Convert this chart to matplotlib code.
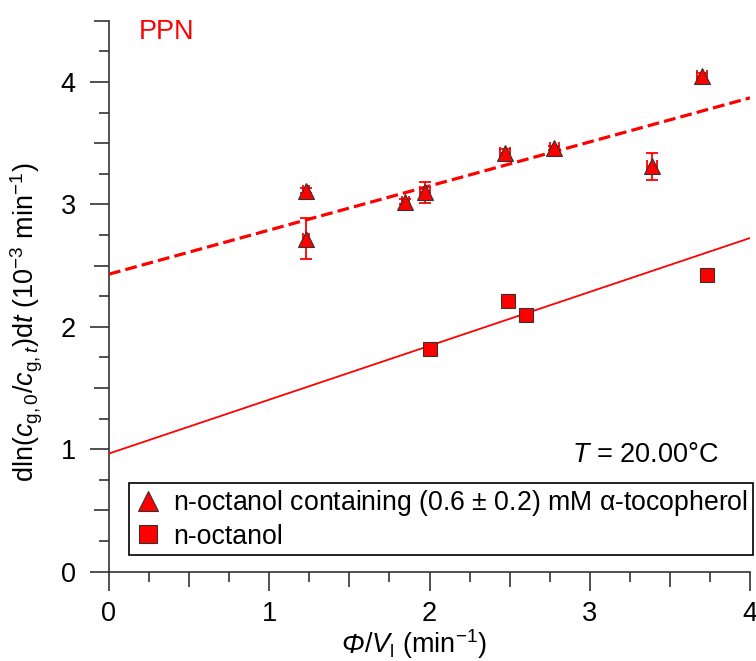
import matplotlib
matplotlib.use('Agg')
import matplotlib.pyplot as plt
from matplotlib.ticker import MultipleLocator, FixedLocator, NullFormatter
from matplotlib.offsetbox import TextArea, HPacker, AnchoredOffsetbox

plt.rcParams['font.family'] = ['Liberation Sans', 'DejaVu Sans']
plt.rcParams['mathtext.fontset'] = 'custom'
plt.rcParams['mathtext.rm'] = 'Liberation Sans'
plt.rcParams['mathtext.it'] = 'Liberation Sans:italic'
plt.rcParams['mathtext.bf'] = 'Liberation Sans:bold'

# n-octanol + alpha-tocopherol (triangles)
tri_x = [1.23, 1.23, 1.85, 1.97, 2.47, 2.78, 3.39, 3.70]
tri_y = [3.11, 2.72, 3.02, 3.10, 3.42, 3.46, 3.31, 4.05]
tri_xerr = [0.02, 0.02, 0.02, 0.03, 0.03, 0.03, 0.03, 0.03]
tri_yerr = [0.02, 0.17, 0.02, 0.085, 0.03, 0.02, 0.11, 0.02]

# n-octanol (squares)
sq_x = [2.00, 2.49, 2.60, 3.73]
sq_y = [1.815, 2.21, 2.095, 2.42]
sq_xerr = [0.01, 0.01, 0.01, 0.03]
sq_yerr = [0.01, 0.01, 0.01, 0.01]

# linear fits (intercept, slope)
fit_tri = (2.43, 0.36)
fit_sq = (0.965, 0.44)
fit_x = [0, 4]

RED = '#ff0000'
FS = 19.5

fig = plt.figure(figsize=(7.56, 6.61), dpi=100)
ax = fig.add_axes([109 / 756, 1 - 571.7 / 661, (750 - 109) / 756, (571.7 - 20.7) / 661])

ax.plot(fit_x, [fit_tri[0] + fit_tri[1] * x for x in fit_x], color=RED, lw=2.3, ls='--', zorder=1)
ax.plot(fit_x, [fit_sq[0] + fit_sq[1] * x for x in fit_x], color=RED, lw=1.3, ls='-', zorder=1)

ax.errorbar(tri_x, tri_y, xerr=tri_xerr, yerr=tri_yerr, fmt='none', ecolor=RED,
            elinewidth=1.3, capsize=4.5, capthick=1.3, zorder=2)
ax.errorbar(sq_x, sq_y, xerr=sq_xerr, yerr=sq_yerr, fmt='none', ecolor=RED,
            elinewidth=1.3, capsize=4.5, capthick=1.3, zorder=2)

h_tri, = ax.plot(tri_x, tri_y, ls='none', marker='^', ms=11, mfc=RED, mec='#333333', mew=0.8,
                 zorder=3, label='n-octanol containing (0.6 $\\pm$ 0.2) mM \u03b1-tocopherol')
h_sq, = ax.plot(sq_x, sq_y, ls='none', marker='s', ms=10, mfc=RED, mec='#333333', mew=0.8,
                zorder=3, label='n-octanol')

ax.set_xlim(0, 4)
ax.set_ylim(0, 4.5)
for s in ['top', 'right']:
    ax.spines[s].set_visible(False)
for s in ['left', 'bottom']:
    ax.spines[s].set_linewidth(1.2)
    ax.spines[s].set_color('#333333')
    ax.spines[s].set_zorder(0)

ax.xaxis.set_major_locator(MultipleLocator(1))
ax.yaxis.set_major_locator(MultipleLocator(1))
ax.xaxis.set_minor_locator(FixedLocator([0.25, 0.75, 1.25, 1.75, 2.25, 2.75, 3.25, 3.75]))
ax.yaxis.set_minor_locator(FixedLocator([0.25, 0.75, 1.25, 1.75, 2.25, 2.75, 3.25, 3.75, 4.25]))
ax.tick_params(which='major', length=14, width=1.2, color='#333333', labelsize=FS, direction='out')
ax.tick_params(which='minor', length=7, width=1.2, color='#333333', direction='out')
ax.tick_params(axis='x', which='major', pad=7)
ax.tick_params(axis='y', which='major', pad=10)

# medium ticks at half units
secx = ax.secondary_xaxis(0)
secx.set_xticks([0.5, 1.5, 2.5, 3.5])
secx.xaxis.set_major_formatter(NullFormatter())
secx.tick_params(length=10.5, width=1.2, color='#333333')
secx.spines['bottom'].set_visible(False)
secy = ax.secondary_yaxis(0)
secy.set_yticks([0.5, 1.5, 2.5, 3.5, 4.5])
secy.yaxis.set_major_formatter(NullFormatter())
secy.tick_params(length=10.5, width=1.2, color='#333333')
secy.spines['left'].set_visible(False)

fig.text(27 / 756, 1 - 322 / 661,
         'dln($c_{\\rm g,0}$/$c_{{\\rm g,}t}$)d$t$ (10$^{-3}$ min$^{-1}$)',
         rotation=90, ha='center', va='center', fontsize=FS)

# x label: italic Phi followed by the rest
phi = TextArea('\u03a6', textprops=dict(fontsize=FS, fontstyle='italic'))
rest = TextArea('/$V_{\\rm l}$ (min$^{-1}$)', textprops=dict(fontsize=FS))
xlab = HPacker(children=[phi, rest], align='baseline', pad=0, sep=0)
abox = AnchoredOffsetbox(loc='center', child=xlab, pad=0, borderpad=0, frameon=False,
                         bbox_to_anchor=(414 / 756, 1 - 644 / 661), bbox_transform=fig.transFigure)
fig.add_artist(abox)

fig.text(139 / 756, 1 - 19 / 661, 'PPN', color=RED, fontsize=FS, ha='left', va='top')
fig.text(572 / 756, 1 - 461.7 / 661, '$T$ = 20.00\u00b0C', fontsize=FS, ha='left', va='baseline')

leg = fig.legend(handles=[h_tri, h_sq], loc='upper left', bbox_to_anchor=(129 / 756, 1 - 483 / 661),
                 fontsize=19.2, frameon=True, fancybox=False, edgecolor='black', framealpha=1,
                 markerscale=1.3, handlelength=1.0, handletextpad=0.45, borderpad=0.2,
                 labelspacing=0.2, borderaxespad=0)
leg.get_frame().set_linewidth(1.2)

fig.savefig('out.png', dpi=100)
